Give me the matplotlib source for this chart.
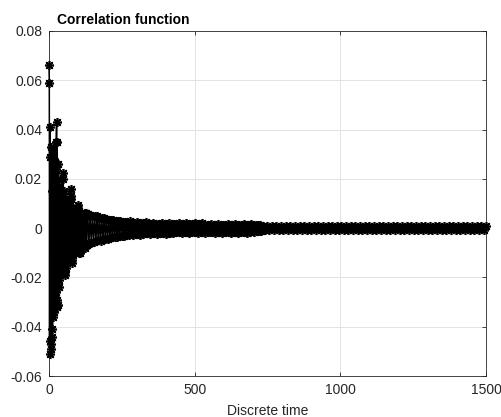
import numpy as np
import matplotlib
matplotlib.use("Agg")
import matplotlib.pyplot as plt

# ---- data (correlation values vs. discrete lag) ----
lag_early = np.arange(0, 131)
corr_early = [
    0.066, 0.059, -0.046, 0.041, -0.051, 0.029, -0.049, 0.033, -0.047, 0.015,
    -0.044, 0.032, -0.041, 0.031, -0.036, 0.030, -0.034, 0.028, -0.030, 0.027,
    -0.027, 0.025, -0.025, 0.024, -0.026, 0.035, 0.043, -0.029, 0.035, -0.032,
    0.026, -0.031, 0.020, -0.024, 0.017, -0.021, 0.016, -0.019, 0.015, -0.019,
    0.014, -0.018, 0.013, -0.018, 0.013, -0.017, 0.014, -0.016, 0.020, 0.0224,
    -0.015, 0.015, -0.017, 0.012, -0.019, 0.010, -0.018, 0.009, -0.016, 0.009,
    -0.014, 0.008, -0.013, 0.008, -0.012, 0.008, -0.012, 0.007, -0.011, 0.007,
    -0.011, 0.008, -0.010, 0.011, 0.013, 0.016, -0.011, 0.012, -0.014, 0.008,
    -0.013, 0.007, -0.011, 0.006, -0.010, 0.006, -0.009, 0.006, -0.009, 0.005,
    -0.009, 0.005, -0.008, 0.005, -0.008, 0.006, -0.008, 0.006, -0.009, 0.008,
    0.0093, -0.009, 0.007, -0.010, 0.006, -0.010, 0.005, -0.009, 0.005, -0.008,
    0.005, -0.008, 0.005, -0.007, 0.005, -0.007, 0.005, -0.007, 0.005, -0.007,
    0.005, -0.007, 0.006, -0.007, 0.006, -0.008, 0.006, -0.007, 0.005, -0.007,
    0.005,
]

lag_mid = np.arange(133, 734, 4)
corr_mid = [
    0.0059, -0.0061, 0.0053, -0.0062, 0.0049, -0.0055, 0.0048, -0.0053, 0.0049, -0.0050,
    0.0043, -0.0052, 0.0040, -0.0045, 0.0043, -0.0043, 0.0036, -0.0044, 0.0034, -0.0038,
    0.0033, -0.0036, 0.0035, -0.0034, 0.0030, -0.0037, 0.0028, -0.0031, 0.0031, -0.0030,
    0.0026, -0.0033, 0.0025, -0.0028, 0.0024, -0.0027, 0.0027, -0.0025, 0.0022, -0.0028,
    0.0021, -0.0023, 0.0024, -0.0023, 0.0020, -0.0026, 0.0019, -0.0022, 0.0019, -0.0021,
    0.0023, -0.0021, 0.0018, -0.0024, 0.0018, -0.0020, 0.0022, -0.0020, 0.0017, -0.0023,
    0.0017, -0.0019, 0.0017, -0.0019, 0.0021, -0.0018, 0.0016, -0.0022, 0.0016, -0.0018,
    0.0020, -0.0018, 0.0016, -0.0021, 0.0016, -0.0017, 0.0016, -0.0017, 0.0019, -0.0017,
    0.0015, -0.0021, 0.0015, -0.0017, 0.0019, -0.0016, 0.0015, -0.0020, 0.0015, -0.0016,
    0.0015, -0.0016, 0.0019, -0.0016, 0.0015, -0.0020, 0.0015, -0.0016, 0.0019, -0.0016,
    0.0014, -0.0020, 0.0014, -0.0015, 0.0014, -0.0015, 0.0018, -0.0015, 0.0014, -0.0019,
    0.0014, -0.0015, 0.0018, -0.0015, 0.0014, -0.0019, 0.0014, -0.0015, 0.0014, -0.0015,
    0.0018, -0.0015, 0.0013, -0.0018, 0.0013, -0.0014, 0.0017, -0.0014, 0.0013, -0.0018,
    0.0013, -0.0014, 0.0013, -0.0014, 0.0017, -0.0014, 0.0013, -0.0018, 0.0013, -0.0014,
    0.0017, -0.0013, 0.0012, -0.0016, 0.0012, -0.0013, 0.0011, -0.0012, 0.0013, -0.0011,
    0.0010,
]

lag_late = np.arange(740, 1501, 8)
corr_late = [
    -0.0008, 0.0007, -0.0008, 0.0007, -0.0007, 0.0008, -0.0007, 0.0007, -0.0008, 0.0007,
    -0.0007, 0.0007, -0.0008, 0.0007, -0.0007, 0.0007, -0.0007, 0.0008, -0.0007, 0.0007,
    -0.0007, 0.0007, -0.0008, 0.0007, -0.0007, 0.0007, -0.0007, 0.0007, -0.0007, 0.0007,
    -0.0007, 0.0008, -0.0007, 0.0007, -0.0007, 0.0007, -0.0007, 0.0007, -0.0007, 0.0007,
    -0.0007, 0.0007, -0.0007, 0.0007, -0.0007, 0.0007, -0.0007, 0.0007, -0.0007, 0.0007,
    -0.0007, 0.0007, -0.0007, 0.0007, -0.0007, 0.0007, -0.0007, 0.0007, -0.0007, 0.0007,
    -0.0007, 0.0007, -0.0007, 0.0007, -0.0007, 0.0007, -0.0007, 0.0007, -0.0007, 0.0007,
    -0.0007, 0.0007, -0.0007, 0.0007, -0.0007, 0.0007, -0.0007, 0.0007, -0.0007, 0.0007,
    -0.0007, 0.0007, -0.0007, 0.0007, -0.0007, 0.0007, -0.0007, 0.0007, -0.0007, 0.0007,
    -0.0007, 0.0007, -0.0007, 0.0007, -0.0007, 0.0007,
]

x_ticks = [0, 500, 1000, 1500]
x_tick_labels = ["0", "500", "1000", "1500"]
y_ticks = [-0.06, -0.04, -0.02, 0.0, 0.02, 0.04, 0.06, 0.08]
y_tick_labels = ["-0.06", "-0.04", "-0.02", "0", "0.02", "0.04", "0.06", "0.08"]
title_text = "Correlation function"
xlabel_text = "Discrete time"

# ---- figure ----
plt.rcParams["font.family"] = ["Liberation Sans", "DejaVu Sans"]
W, H = 502, 417
fig = plt.figure(figsize=(W / 100, H / 100), dpi=100)
ax = fig.add_axes([49 / W, 1 - 376 / H, (486 - 49) / W, (376 - 31) / H])

lag = np.concatenate([lag_early, lag_mid, lag_late])
corr = np.concatenate([corr_early, corr_mid, corr_late])

ax.plot(lag, corr, color="black", lw=1.1, marker=(8, 2, 0), ms=6.5, mew=1.2,
        clip_on=False, zorder=3)

ax.set_xlim(0, 1500)
ax.set_ylim(-0.06, 0.08)
ax.set_xticks(x_ticks)
ax.set_xticklabels(x_tick_labels)
ax.set_yticks(y_ticks)
ax.set_yticklabels(y_tick_labels)
ax.grid(True, color="#e3e3e3", lw=0.7)
ax.set_axisbelow(True)
for s in ax.spines.values():
    s.set_color("#262626")
    s.set_linewidth(0.6)
ax.tick_params(direction="in", length=3, width=0.6, color="#262626",
               labelcolor="#262626", labelsize=10, top=True, right=True, pad=5)

ax.set_xlabel(xlabel_text, fontsize=10, color="#262626", labelpad=5)
fig.text(57 / W, 1 - 24 / H, title_text, fontsize=10, fontweight="bold",
         color="black", ha="left", va="baseline")

fig.savefig("out.png", dpi=100)
